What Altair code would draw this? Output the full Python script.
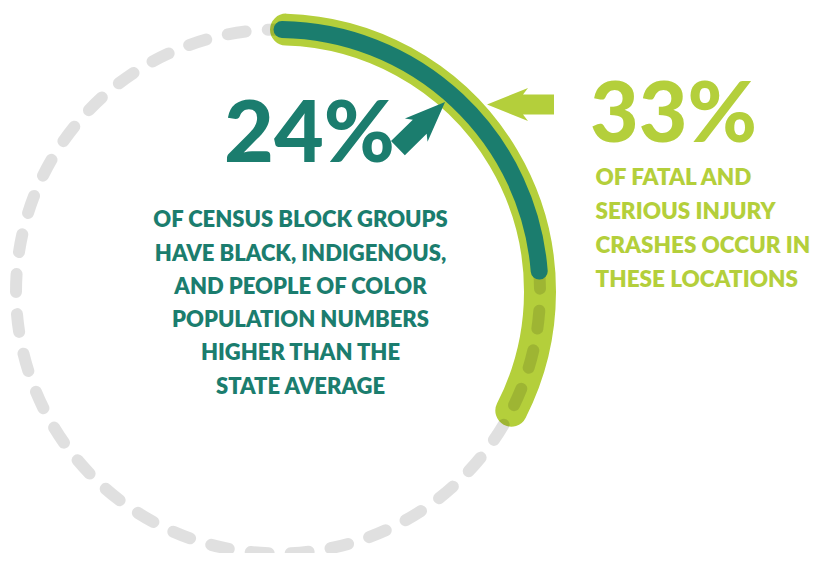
import altair as alt
import pandas as pd

# ---- data ----
series_labels = ["Fatal and serious injury crashes", "Census block groups (BIPOC above state avg)"]
series_values = [33, 24]
full_circle = [0, 100]

big_labels = ["33%", "24%"]
lime_lines = ["OF FATAL AND", "SERIOUS INJURY", "CRASHES OCCUR IN", "THESE LOCATIONS"]
teal_lines = ["OF CENSUS BLOCK GROUPS", "HAVE BLACK, INDIGENOUS,", "AND PEOPLE OF COLOR",
              "POPULATION NUMBERS", "HIGHER THAN THE", "STATE AVERAGE"]

LIME = "#b4cf3b"
TEAL = "#1b7d6e"
FONT = "Lato"

CX, CY = 270, 283.5  # ring centre within plot area

arcs = pd.DataFrame({"label": series_labels, "start": [0, 0], "end": series_values})
ring = pd.DataFrame({"start": [full_circle[0]], "end": [full_circle[1]]})

theta_scale = alt.Scale(domain=[0, 100], range=[0, 6.283185307179586])

def arc_enc(base):
    return base.encode(
        theta=alt.Theta("start:Q", scale=theta_scale, stack=None),
        theta2="end:Q",
        x=alt.value(CX),
        y=alt.value(CY),
    )

lime_arc = arc_enc(
    alt.Chart(arcs).transform_filter(alt.datum.label == series_labels[0]).mark_arc(
        radius=270, radius2=254, cornerRadius=8, fill=LIME, stroke=LIME,
        strokeWidth=16, strokeJoin="round"
    )
)

ring_layer = arc_enc(
    alt.Chart(ring).mark_arc(
        radius=262, radius2=0, filled=False, stroke="#000000", strokeOpacity=0.12,
        strokeWidth=12, strokeDash=[18, 22.15], strokeDashOffset=11, strokeCap="round"
    )
)

teal_arc = arc_enc(
    alt.Chart(arcs).transform_filter(alt.datum.label == series_labels[1]).mark_arc(
        radius=266, radius2=258, cornerRadius=4, fill=TEAL, stroke=TEAL,
        strokeWidth=9, strokeJoin="round"
    )
)

ARROW = "M -1 -0.3 L -0.075 -0.3 L -0.224 -0.49 L 1 0 L -0.224 0.49 L -0.075 0.3 L -1 0.3 Z"
dummy = pd.DataFrame({"k": [0]})

lime_arrow = alt.Chart(dummy).mark_point(
    shape=ARROW, filled=True, fill=LIME, strokeWidth=0, opacity=1, size=4489, angle=180
).encode(x=alt.value(512.5), y=alt.value(96.5))

teal_arrow = alt.Chart(dummy).mark_point(
    shape=ARROW, filled=True, fill=TEAL, strokeWidth=0, opacity=1, size=4356, angle=315.6
).encode(x=alt.value(413.5), y=alt.value(117))

big_lime = alt.Chart(dummy).mark_text(
    text=big_labels[0], font=FONT, fontWeight=900, fontSize=84, color=LIME,
    align="left", baseline="alphabetic"
).encode(x=alt.value(582), y=alt.value(134))

big_teal = alt.Chart(dummy).mark_text(
    text=big_labels[1], font=FONT, fontWeight=900, fontSize=86, color=TEAL,
    align="left", baseline="alphabetic"
).encode(x=alt.value(216), y=alt.value(154))

lime_text = alt.Chart(dummy).mark_text(
    text="\n".join(lime_lines), lineBreak="\n", lineHeight=34.3, font=FONT,
    fontWeight=800, fontSize=22.5, color=LIME, align="left", baseline="alphabetic"
).encode(x=alt.value(587.5), y=alt.value(176.5))

teal_text = alt.Chart(dummy).mark_text(
    text="\n".join(teal_lines), lineBreak="\n", lineHeight=33.3, font=FONT,
    fontWeight=800, fontSize=22, color=TEAL, align="center", baseline="alphabetic"
).encode(x=alt.value(292.5), y=alt.value(219.3))

chart = alt.layer(
    lime_arc, ring_layer, teal_arc, lime_arrow, teal_arrow,
    big_lime, big_teal, lime_text, teal_text
).properties(
    width=807, height=545, padding=0, autosize=alt.AutoSizeParams(type="none")
).configure_view(stroke=None)

chart.save("out.html", embed_options={"renderer": "svg", "actions": False})
